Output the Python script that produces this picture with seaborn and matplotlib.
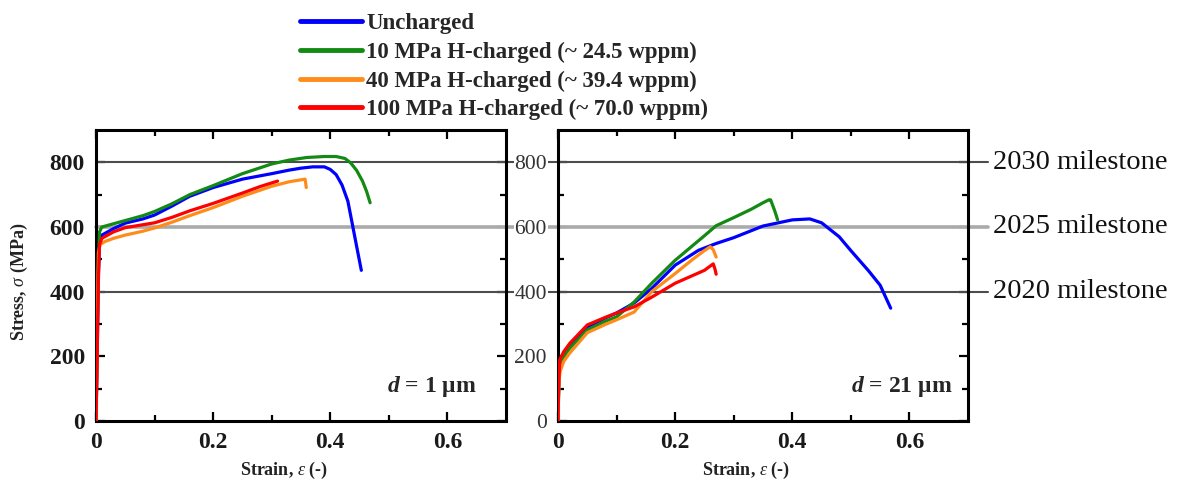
import numpy as np
import pandas as pd
import matplotlib
matplotlib.use("Agg")
import matplotlib.pyplot as plt
import seaborn as sns
from matplotlib.transforms import blended_transform_factory

# ---------------- data ----------------
conditions = ["Uncharged",
              "10 MPa H-charged (~ 24.5 wppm)",
              "40 MPa H-charged (~ 39.4 wppm)",
              "100 MPa H-charged (~ 70.0 wppm)"]
colors = ["#0000ff", "#138a13", "#ff8c1a", "#ff0000"]

# d = 1 um panel
L_unch_x = [0, 0.002, 0.004, 0.006, 0.01, 0.03, 0.05, 0.08, 0.1, 0.13, 0.16, 0.2, 0.25, 0.3, 0.33, 0.35, 0.37, 0.39, 0.40, 0.41, 0.42, 0.43, 0.437, 0.445, 0.453]
L_unch_y = [0, 200, 450, 550, 575, 595, 612, 625, 637, 665, 695, 722, 748, 765, 776, 782, 786, 786, 778, 762, 730, 680, 615, 540, 466]
L_10_x = [0, 0.002, 0.004, 0.006, 0.01, 0.03, 0.05, 0.08, 0.1, 0.13, 0.16, 0.2, 0.25, 0.3, 0.33, 0.36, 0.39, 0.41, 0.425, 0.435, 0.445, 0.455, 0.462, 0.468]
L_10_y = [0, 250, 470, 585, 600, 610, 620, 635, 648, 672, 700, 728, 765, 795, 807, 815, 818, 818, 812, 798, 775, 742, 710, 675]
L_40_x = [0, 0.001, 0.002, 0.003, 0.004, 0.007, 0.015, 0.03, 0.05, 0.08, 0.1, 0.13, 0.16, 0.2, 0.25, 0.3, 0.33, 0.35, 0.357, 0.358, 0.359]
L_40_y = [0, 120, 250, 400, 520, 545, 555, 565, 575, 587, 597, 615, 635, 660, 695, 726, 740, 746, 748, 735, 722]
L_100_x = [0, 0.002, 0.004, 0.006, 0.01, 0.03, 0.05, 0.08, 0.1, 0.13, 0.16, 0.2, 0.25, 0.28, 0.31]
L_100_y = [0, 200, 430, 545, 565, 585, 598, 607, 613, 630, 650, 673, 705, 725, 742]

# d = 21 um panel
R_unch_x = [0, 0.001, 0.003, 0.01, 0.02, 0.05, 0.08, 0.1, 0.13, 0.16, 0.2, 0.24, 0.27, 0.3, 0.35, 0.4, 0.43, 0.45, 0.48, 0.5, 0.53, 0.55, 0.568]
R_unch_y = [0, 100, 170, 205, 230, 290, 318, 334, 365, 410, 482, 528, 549, 567, 603, 622, 625, 613, 570, 527, 465, 420, 349]
R_10_x = [0, 0.001, 0.003, 0.01, 0.02, 0.05, 0.08, 0.1, 0.13, 0.16, 0.2, 0.25, 0.27, 0.3, 0.33, 0.35, 0.36, 0.363, 0.37, 0.375]
R_10_y = [0, 80, 165, 200, 225, 282, 308, 322, 368, 426, 497, 573, 604, 629, 655, 675, 684, 684, 650, 622]
R_40_x = [0, 0.001, 0.003, 0.01, 0.02, 0.05, 0.08, 0.1, 0.13, 0.16, 0.2, 0.23, 0.25, 0.26, 0.265, 0.27]
R_40_y = [0, 90, 150, 185, 210, 273, 298, 313, 337, 400, 456, 500, 527, 539, 530, 507]
R_100_x = [0, 0.001, 0.003, 0.01, 0.02, 0.05, 0.08, 0.1, 0.13, 0.16, 0.2, 0.23, 0.25, 0.265, 0.268, 0.27]
R_100_y = [0, 100, 190, 215, 240, 297, 320, 334, 353, 383, 426, 450, 466, 486, 470, 454]

milestone_values = [800, 600, 400]
milestone_labels = ["2030 milestone", "2025 milestone", "2020 milestone"]
milestone_colors = ["#4d4d4d", "#aaaaaa", "#4d4d4d"]
milestone_widths = [1.5, 2.6, 1.5]

x_ticks = [0, 0.2, 0.4, 0.6]
x_ticklabels = ["0", "0.2", "0.4", "0.6"]
y_ticks = [0, 200, 400, 600, 800]
y_ticklabels = ["0", "200", "400", "600", "800"]
panel_labels = ["$\\mathbfit{d}$ = 1 \u03bcm", "$\\mathbfit{d}$ = 21 \u03bcm"]


def frame(xs_list, ys_list):
    rows = []
    for cond, xs, ys in zip(conditions, xs_list, ys_list):
        for i, (x, y) in enumerate(zip(xs, ys)):
            rows.append({"strain": x, "stress": y, "condition": cond, "idx": i})
    return pd.DataFrame(rows)


df_left = frame([L_unch_x, L_10_x, L_40_x, L_100_x], [L_unch_y, L_10_y, L_40_y, L_100_y])
df_right = frame([R_unch_x, R_10_x, R_40_x, R_100_x], [R_unch_y, R_10_y, R_40_y, R_100_y])

# ---------------- style ----------------
sns.set_style("ticks")
plt.rcParams["font.family"] = ["Liberation Serif", "DejaVu Serif"]
plt.rcParams["mathtext.fontset"] = "custom"
plt.rcParams["mathtext.rm"] = "Liberation Serif"
plt.rcParams["mathtext.it"] = "Liberation Serif:italic"
plt.rcParams["mathtext.bf"] = "Liberation Serif:bold"
plt.rcParams["mathtext.bfit"] = "Liberation Serif:italic:bold"

W, H = 1184, 484
fig = plt.figure(figsize=(W / 100, H / 100), dpi=100)
ax1 = fig.add_axes([96 / W, (H - 421) / H, 410 / W, 291 / H])
ax2 = fig.add_axes([558 / W, (H - 421) / H, 410 / W, 291 / H])

palette = dict(zip(conditions, colors))

sns.lineplot(data=df_left, x="strain", y="stress", hue="condition", hue_order=conditions,
             palette=palette, sort=False, estimator=None, linewidth=2.3,
             ax=ax1, legend=True, zorder=3)
sns.lineplot(data=df_right, x="strain", y="stress", hue="condition", hue_order=conditions,
             palette=palette, sort=False, estimator=None, linewidth=2.3,
             ax=ax2, legend=False, zorder=3)

handles, labels = ax1.get_legend_handles_labels()
ax1.get_legend().remove()

# milestone lines spanning both panels
tr = blended_transform_factory(fig.transFigure, ax1.transData)
for v, lab, c, lw in zip(milestone_values, milestone_labels, milestone_colors, milestone_widths):
    ax1.plot([96 / W, 988 / W], [v, v], transform=tr, clip_on=False, color=c, lw=lw, zorder=1.5)
    ax2.axhline(v, color=c, lw=lw, zorder=1.5)
    fig.text(993 / W, v, lab, transform=tr, ha="left", va="center", fontsize=20.5, color="#111111")

for i, ax in enumerate([ax1, ax2]):
    ax.set_xlim(0, 0.7)
    ax.set_ylim(0, 900)
    ax.set_xticks(x_ticks)
    ax.set_xticklabels(x_ticklabels)
    ax.set_yticks(y_ticks)
    ax.set_yticklabels(y_ticklabels)
    ax.set_xticks([0.1, 0.3, 0.5], minor=True)
    ax.set_yticks([100, 300, 500, 700], minor=True)
    ax.tick_params(which="both", direction="in", top=True, right=True, width=1.6, color="black")
    ax.tick_params(which="major", length=6.5)
    ax.tick_params(which="minor", length=4)
    ax.tick_params(axis="x", pad=8)
    for sp in ax.spines.values():
        sp.set_linewidth(2.2)
        sp.set_color("black")
    for t in ax.get_xticklabels():
        t.set_fontsize(17)
        t.set_fontweight("bold")
        t.set_color("#1a1a1a")
    ax.set_xlabel("Strain, $\\varepsilon$ (-)", fontsize=13, fontweight="bold", color="#222222")
    ax.xaxis.set_label_coords(0.458, -0.135)
    ax.text([0.929, 0.961][i], 0.117, panel_labels[i], transform=ax.transAxes,
            ha="right", va="center", fontsize=17, fontweight="bold")

for t in ax1.get_yticklabels():
    t.set_fontsize(17)
    t.set_fontweight("bold")
    t.set_color("#1a1a1a")
ax1.tick_params(axis="y", pad=8)
ax1.set_ylabel("Stress, $\\sigma$ (MPa)", fontsize=13, fontweight="bold", color="#222222")
ax1.yaxis.set_label_coords(-0.16, 0.48)

ax2.set_ylabel("")
ax2.tick_params(axis="y", pad=8)
for t in ax2.get_yticklabels():
    t.set_fontsize(15.5)
    t.set_color("#333333")
    t.set_bbox(dict(facecolor="white", edgecolor="none", pad=0.5))

leg = fig.legend(handles, labels, loc="upper left", bbox_to_anchor=(300 / W, 1 - 13 / H),
                 frameon=False, borderpad=0, borderaxespad=0, handlelength=2.7,
                 handletextpad=0.2, labelspacing=0.33,
                 prop={"family": "Liberation Serif", "weight": "bold", "size": 16.5})
for h in leg.get_lines():
    h.set_linewidth(3.5)

fig.savefig("out.png", dpi=100)
